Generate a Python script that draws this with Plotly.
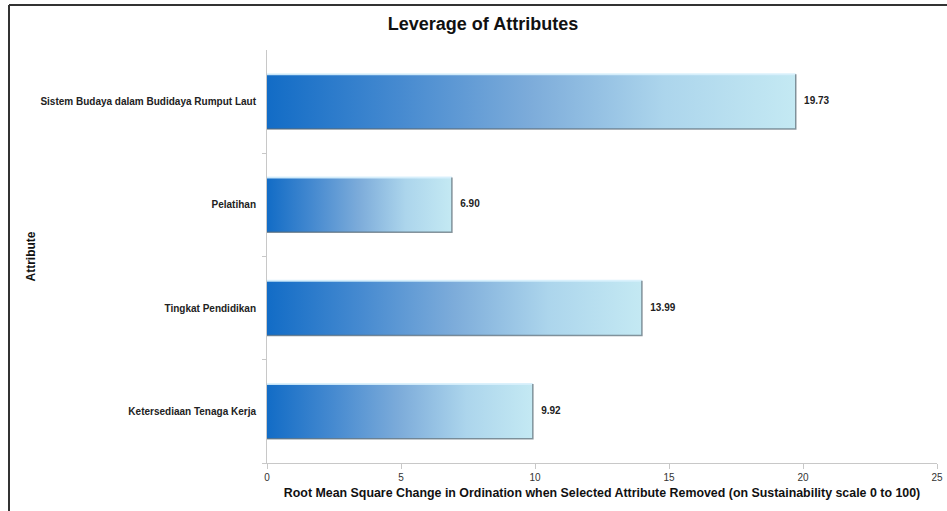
import plotly.graph_objects as go

# ---- data ----
attributes = [
    "Ketersediaan Tenaga Kerja",
    "Tingkat Pendidikan",
    "Pelatihan",
    "Sistem Budaya dalam Budidaya Rumput Laut",
]
leverage = [9.92, 13.99, 6.90, 19.73]
x_ticks = [0, 5, 10, 15, 20, 25]

title_text = "Leverage of Attributes"
x_title = "Root Mean Square Change in Ordination when Selected Attribute Removed (on Sustainability scale 0 to 100)"
y_title = "Attribute"

# ---- style ----
HALF = 0.266
grad = [[0.0, "rgb(18,108,198)"], [0.25, "rgb(70,138,208)"], [0.5, "rgb(125,172,218)"],
        [0.75, "rgb(172,213,236)"], [1.0, "rgb(196,233,243)"]]
FONT = "Liberation Sans, Arial, sans-serif"

fig = go.Figure()
positions = list(range(len(attributes)))
for i, (name, v) in enumerate(zip(attributes, leverage)):
    y0, y1 = positions[i] - HALF, positions[i] + HALF
    fig.add_trace(go.Scatter(
        x=[0, v, v, 0, 0], y=[y0, y0, y1, y1, y0],
        mode="lines", fill="toself",
        fillgradient=dict(type="horizontal", colorscale=grad),
        line=dict(color="rgba(0,0,0,0)", width=0),
        hoverinfo="skip", showlegend=False,
    ))
    # highlight on top edge
    fig.add_trace(go.Scatter(
        x=[0, v], y=[y1, y1], mode="lines",
        line=dict(color="rgba(215,240,252,0.9)", width=2),
        hoverinfo="skip", showlegend=False,
    ))
    # shadow on right and bottom edges
    fig.add_trace(go.Scatter(
        x=[v, v, 0], y=[y1, y0, y0], mode="lines",
        line=dict(color="rgba(90,105,115,0.7)", width=1.5),
        hoverinfo="skip", showlegend=False,
    ))

fig.add_trace(go.Scatter(
    x=leverage, y=positions, mode="text",
    text=["   " + f"{v:.2f}" for v in leverage],
    textposition="middle right",
    textfont=dict(family=FONT, size=10, color="#222", weight="bold"),
    showlegend=False, hoverinfo="skip",
))

L, R, T, B = 267, 10, 50, 48
W, H = 947, 511
pw, ph = W - L - R, H - T - B

fig.update_layout(
    width=W, height=H,
    margin=dict(l=L, r=R, t=T, b=B, autoexpand=False),
    paper_bgcolor="white", plot_bgcolor="white",
    title=dict(text=f"<b>{title_text}</b>", x=0.51, xref="container", xanchor="center",
               y=1 - 24 / H, yanchor="middle",
               font=dict(family=FONT, size=18, color="#111")),
    xaxis=dict(range=[0, 25], tickvals=x_ticks, ticktext=[str(t) for t in x_ticks],
               automargin=False,
               showgrid=False, zeroline=False, showline=True, linecolor="#c8c8c8", linewidth=1,
               ticks="outside", ticklen=5, tickcolor="#c8c8c8",
               tickfont=dict(family=FONT, size=10, color="#333"),
               title=dict(text=f"<b>{x_title}</b>", standoff=6,
                          font=dict(family=FONT, size=12.4, color="#111"))),
    yaxis=dict(range=[-0.5, 3.5], tickvals=positions, ticktext=attributes,
               automargin=False,
               showgrid=False, zeroline=False, showline=True, linecolor="#c8c8c8", linewidth=1,
               ticks="", ticklabelstandoff=8,
               tickfont=dict(family=FONT, size=10, color="#222", weight="bold"),
               minor=dict(tickvals=[-0.5, 0.5, 1.5, 2.5], ticks="outside", ticklen=4,
                          tickcolor="#c8c8c8", showgrid=False)),
)

fig.add_annotation(text=f"<b>{y_title}</b>", xref="paper", yref="paper",
                   x=(30 - L) / pw, y=0.5, xanchor="center", yanchor="middle",
                   textangle=-90, showarrow=False,
                   font=dict(family=FONT, size=12, color="#111"))

# frame (left and top) like the reference picture
fx = (9 - L) / pw
fy = (H - B - 5) / ph
fig.add_shape(type="line", xref="paper", yref="paper", x0=fx, x1=fx, y0=-0.2, y1=fy,
              line=dict(color="#333", width=2))
fig.add_shape(type="line", xref="paper", yref="paper", x0=fx, x1=1.1, y0=fy, y1=fy,
              line=dict(color="#333", width=2))

fig.write_html("out.html")
